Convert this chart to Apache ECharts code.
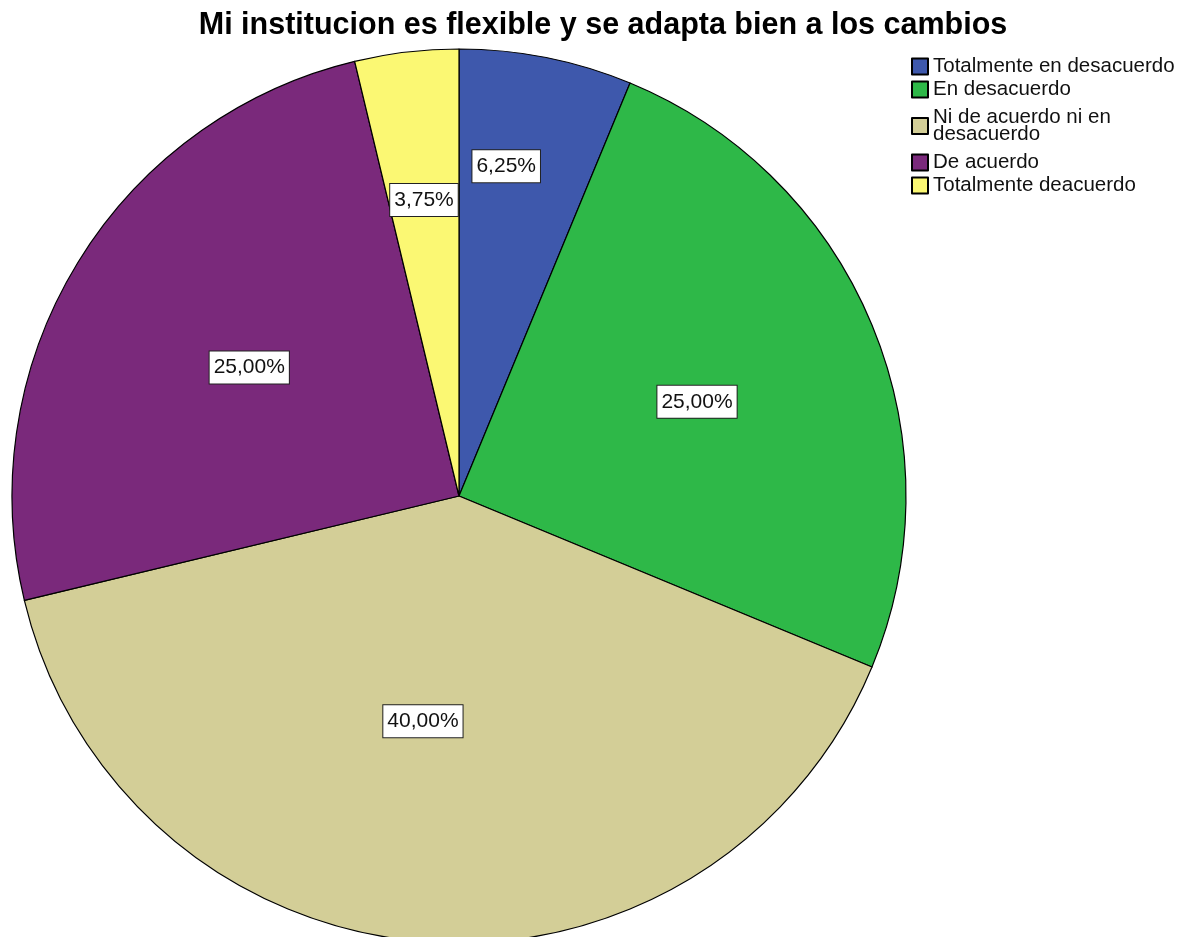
<!DOCTYPE html>
<html>
<head>
<meta charset="utf-8">
<script src="https://cdn.jsdelivr.net/npm/echarts@6/dist/echarts.min.js"></script>
<style>
    html, body { margin: 0; padding: 0; background: #fff; }
    #chart { width: 1189px; height: 937px; }
</style>
</head>
<body>
<div id="chart"></div>
<script>
    // datos (porcentajes)
    var categories = [
        'Totalmente en desacuerdo',
        'En desacuerdo',
        'Ni de acuerdo ni en\ndesacuerdo',
        'De acuerdo',
        'Totalmente deacuerdo'
    ];
    var percents = [6.25, 25.00, 40.00, 25.00, 3.75];
    var colors = ['#3E58AC', '#2EB848', '#D3CE97', '#7A297B', '#FBF873'];

    // posicion de las etiquetas: distancia al centro (px) y ajuste del angulo (grados)
    var labelDist = [333, 256, 228, 246, 298];
    var labelNudge = [-3.1, 0.9, 4.6, 0, 0];
    var pieCenter = [459, 496];

    var chart = echarts.init(document.getElementById('chart'));
    chart.setOption({
        animation: false,
        color: colors,
        title: {
            text: 'Mi institucion es flexible y se adapta bien a los cambios',
            left: 598,
            textAlign: 'center',
            top: 5,
            textStyle: {
                fontFamily: 'Liberation Sans, Arial, sans-serif',
                fontSize: 30.5,
                fontWeight: 'bold',
                color: '#000'
            }
        },
        legend: {
            orient: 'vertical',
            left: 906,
            top: 51,
            itemWidth: 16,
            itemHeight: 16,
            itemGap: 2,
            icon: 'rect',
            textStyle: {
                fontFamily: 'Liberation Sans, Arial, sans-serif',
                fontSize: 20.5,
                lineHeight: 17,
                color: '#111'
            },
            data: categories.map(function (name, i) {
                // la entrada de dos lineas lleva algo mas de aire
                return i === 2 ? {name: name, textStyle: {padding: [7, 0, 7, 0]}} : {name: name};
            })
        },
        series: [{
            type: 'pie',
            center: pieCenter,
            radius: 447,
            startAngle: 90,
            clockwise: true,
            silent: true,
            itemStyle: {
                borderColor: '#000',
                borderWidth: 1.2
            },
            label: {
                show: true,
                position: 'inside',
                formatter: function (p) {
                    return p.value.toFixed(2).replace('.', ',') + '%';
                },
                fontFamily: 'Liberation Sans, Arial, sans-serif',
                fontSize: 21,
                color: '#111',
                backgroundColor: '#fff',
                borderColor: '#222',
                borderWidth: 1,
                padding: [6, 4, 5, 4]
            },
            labelLayout: function (params) {
                var r = params.labelRect;
                var i = params.dataIndex;
                var lx = r.x + r.width / 2;
                var ly = r.y + r.height / 2;
                var a = Math.atan2(lx - pieCenter[0], pieCenter[1] - ly) + labelNudge[i] * Math.PI / 180;
                var tx = pieCenter[0] + labelDist[i] * Math.sin(a);
                var ty = pieCenter[1] - labelDist[i] * Math.cos(a);
                return {dx: tx - lx, dy: ty - ly};
            },
            data: categories.map(function (name, i) {
                return {name: name, value: percents[i]};
            })
        }]
    });
</script>
</body>
</html>
